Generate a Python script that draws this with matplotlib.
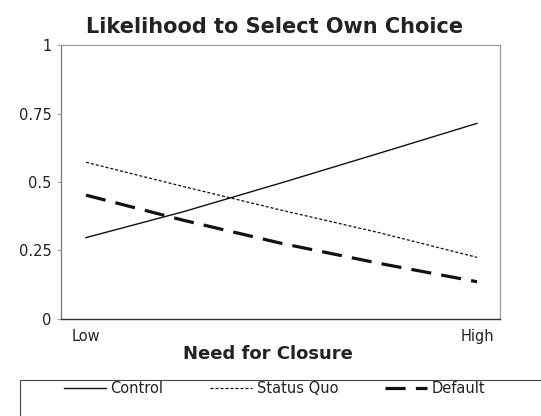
import matplotlib
matplotlib.use("Agg")
import matplotlib.pyplot as plt
from matplotlib.patches import Rectangle

# need for closure, 0 = low, 1 = high
nfc = [0.0, 0.25, 0.5, 0.75, 1.0]
control = [0.297, 0.392, 0.497, 0.605, 0.714]
status_quo = [0.572, 0.483, 0.397, 0.315, 0.225]
default = [0.452, 0.360, 0.276, 0.203, 0.136]

y_ticks = [0, 0.25, 0.5, 0.75, 1]
y_labels = ["0", "0.25", "0.5", "0.75", "1"]
x_ticks = [0, 1]
x_labels = ["Low", "High"]

plt.rcParams['font.family'] = ['DejaVu Sans']

fig = plt.figure(figsize=(5.41, 4.16), dpi=100)
ax = fig.add_axes([0.1128, 0.2332, 0.8115, 0.6586])

ax.plot(nfc, control, color='#111111', lw=1.0, label='Control')
ax.plot(nfc, status_quo, color='#111111', lw=0.9, dashes=(2.4, 1.6), label='Status Quo')
ax.plot(nfc, default, color='#111111', lw=2.3, dashes=(6.3, 3.2), label='Default')

ax.set_xlim(-0.064, 1.059)
ax.set_ylim(0, 1)
ax.set_yticks(y_ticks)
ax.set_yticklabels(y_labels, fontsize=10.5, color='#222222')
ax.set_xticks(x_ticks)
ax.set_xticklabels(x_labels, fontsize=10.5, color='#222222')
ax.tick_params(axis='y', length=3, width=0.6, color='#999999', pad=4)
ax.tick_params(axis='x', length=0, pad=7)

for side in ['top', 'right']:
    ax.spines[side].set_color('#999999')
    ax.spines[side].set_linewidth(0.9)
ax.spines['left'].set_color('#777777')
ax.spines['left'].set_linewidth(0.9)
ax.spines['bottom'].set_color('#333333')
ax.spines['bottom'].set_linewidth(1.0)

ax.set_title("Likelihood to Select Own Choice", fontsize=15, fontweight='bold',
             color='#222222', pad=9, x=0.486)
ax.set_xlabel("Need for Closure", fontsize=13, fontweight='bold', color='#222222')
ax.xaxis.set_label_coords(0.4715, -0.095)

# legend box at the bottom, running off the right edge
fig.patches.append(Rectangle((0.037, -0.02), 1.0, 0.107, transform=fig.transFigure,
                             fill=False, edgecolor='#444444', lw=0.8))
fig.legend(loc='center', bbox_to_anchor=(0.507, 0.067), ncol=3, frameon=False,
           fontsize=10.5, handlelength=2.9, handletextpad=0.3, columnspacing=3.2,
           labelcolor='#222222')

fig.savefig("out.png", dpi=100)
